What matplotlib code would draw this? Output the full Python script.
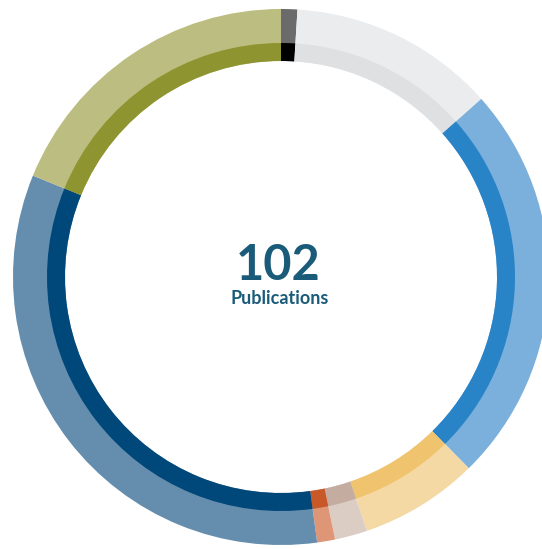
import matplotlib
matplotlib.use("Agg")
import matplotlib.pyplot as plt

# Data (clockwise from 12 o'clock)
categories = ["A", "B", "C", "D", "E", "F", "G", "H"]
values = [1, 12.7, 24.7, 7.3, 2, 1.1, 34, 19.2]
outer_colors = ["#6b6b6b", "#ebecee", "#7ab0db", "#f5d9a4", "#dbccc4",
                "#de9677", "#658eae", "#bcbd80"]
inner_colors = ["#000000", "#dfe0e2", "#2883c7", "#f0c46f", "#c4aca0",
                "#c95828", "#00477a", "#8e9430"]
total_label = "102"
sub_label = "Publications"

W, H = 542, 549
fig = plt.figure(figsize=(W / 100, H / 100), dpi=100)
ax = fig.add_axes([0, 0, 1, 1])

cx, cy = 281, H - 277
R_out, R_mid, R_in = 268, 234, 216

ax.pie(values, colors=outer_colors, radius=R_out, center=(cx, cy),
       startangle=90, counterclock=False,
       wedgeprops=dict(width=R_out - R_in, linewidth=0))
ax.pie(values, colors=inner_colors, radius=R_mid, center=(cx, cy),
       startangle=90, counterclock=False,
       wedgeprops=dict(width=R_mid - R_in, linewidth=0))

ax.set_xlim(0, W)
ax.set_ylim(0, H)
ax.set_aspect("equal")
ax.axis("off")

ax.text(278, H - 280, total_label, ha="center", va="baseline",
        fontsize=35, fontweight="bold", color="#1a5b7a", family="Lato")
ax.text(280, H - 304, sub_label, ha="center", va="baseline",
        fontsize=13, fontweight="bold", color="#1a5b7a", family="Lato")

fig.savefig("out.png", dpi=100)
